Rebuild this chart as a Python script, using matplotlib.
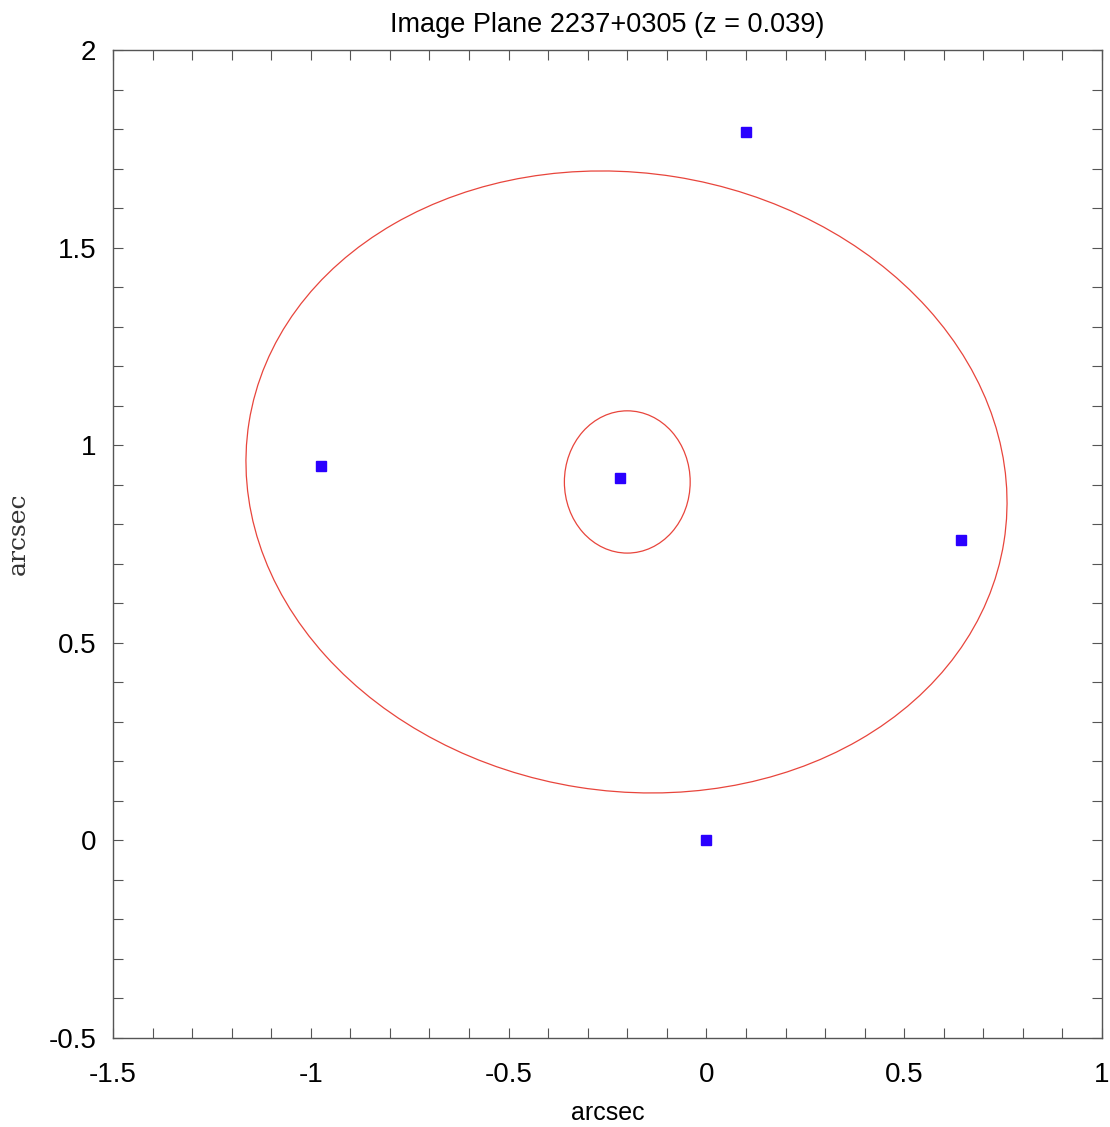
"""Image-plane plot of the lensed images of 2237+0305 with critical curves."""

import matplotlib

matplotlib.use("Agg")
import matplotlib.pyplot as plt
from matplotlib.patches import Ellipse
from matplotlib.ticker import MultipleLocator

# image positions (arcsec)
IMAGE_X = [0.10, -0.974, -0.218, 0.644, 0.0]
IMAGE_Y = [1.792, 0.947, 0.917, 0.760, 0.0]

# critical curves: centre x, centre y, width, height, angle (deg)
OUTER_CURVE = (-0.202, 0.907, 1.932, 1.564, -9.0)
INNER_CURVE = (-0.200, 0.907, 0.318, 0.360, 0.0)

X_LIM = (-1.5, 1.0)
Y_LIM = (-0.5, 2.0)

RED = "#e8453c"
BLUE = "#2a00ff"
GREY = "#555555"

plt.rcParams["font.family"] = ["Liberation Sans", "DejaVu Sans"]


def main() -> None:
    fig = plt.figure(figsize=(11.10, 11.27), dpi=100)
    ax = fig.add_axes([0.1018, 0.0790, 0.8910, 0.8766])

    for cx, cy, w, h, ang in (OUTER_CURVE, INNER_CURVE):
        ax.add_patch(Ellipse((cx, cy), w, h, angle=ang, fill=False,
                             edgecolor=RED, linewidth=0.9))

    ax.plot(IMAGE_X, IMAGE_Y, linestyle="none", marker="s", markersize=7.5,
            color=BLUE, markeredgecolor=BLUE)

    ax.set_xlim(*X_LIM)
    ax.set_ylim(*Y_LIM)
    ax.xaxis.set_major_locator(MultipleLocator(0.5))
    ax.yaxis.set_major_locator(MultipleLocator(0.5))
    ax.xaxis.set_minor_locator(MultipleLocator(0.1))
    ax.yaxis.set_minor_locator(MultipleLocator(0.1))
    ax.xaxis.set_major_formatter(lambda v, pos: f"{v:g}")
    ax.yaxis.set_major_formatter(lambda v, pos: f"{v:g}")

    ax.tick_params(which="both", direction="in", top=True, right=True,
                   length=7, width=0.8, color=GREY)
    ax.tick_params(axis="x", which="major", labelsize=20, pad=17)
    ax.tick_params(axis="y", which="major", labelsize=20, pad=12)
    for spine in ax.spines.values():
        spine.set_color(GREY)
        spine.set_linewidth(1.0)

    ax.set_title("Image Plane 2237+0305 (z = 0.039)", fontsize=19.5, pad=13)
    ax.set_xlabel("arcsec", fontsize=18, labelpad=10)
    ax.set_ylabel("arcsec", fontsize=18, family="DejaVu Serif", color="#333333")
    ax.yaxis.set_label_coords(-0.084, 0.51)

    fig.savefig("out.png", dpi=100)


if __name__ == "__main__":
    main()
